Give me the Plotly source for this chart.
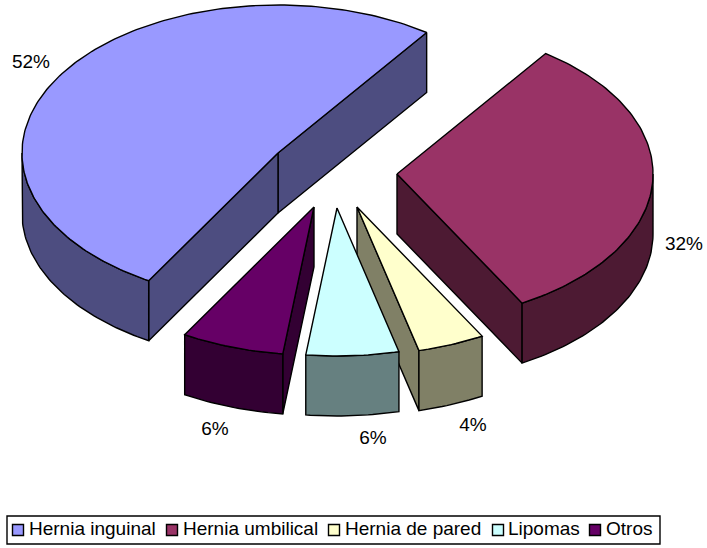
import math
import numpy as np
import plotly.graph_objects as go

# Chart data
categories = ["Hernia inguinal", "Hernia umbilical", "Hernia de pared", "Lipomas", "Otros"]
values = [52, 32, 4, 6, 6]
top_colors = ["#9999FF", "#993366", "#FFFFCC", "#CCFFFF", "#660066"]
side_colors = ["#4D4D80", "#4D1A33", "#808066", "#668080", "#330033"]

# Tip of each exploded wedge on the page, in category order
tips = [(278, 153), (397, 174), (357, 207), (337, 208), (314, 207)]
label_xy = [(31, 63), (684, 245), (473, 426), (373, 439), (215, 430)]
# Painter's order: back slices first, front slices last
draw_order = [0, 1, 2, 4, 3]

# Legend layout
legend_swatch_x = [18, 172, 334, 498, 595]
legend_text_x = [29, 183, 345, 508, 606]
legend_y = 530

# Pie projection
WIDTH, HEIGHT = 707, 548
RX, RY = 256, 148
DEPTH = 60
START_DEG = 35.5
FONT = "Liberation Sans, Arial, sans-serif"
TEXT_SIZE = 19
# Foreshortening of the rim along the near edge, in degrees
WARP_AT = [150, 165, 187, 209, 260]
WARP_BY = [0, 0.9, 0.3, 2.1, 0]


def point(tip, deg, drop=0):
    d = deg % 360
    t = math.radians(d + float(np.interp(d, WARP_AT, WARP_BY)))
    return tip[0] + RX * math.sin(t), tip[1] - RY * math.cos(t) + drop


def arc(tip, a, b, drop=0):
    n = max(2, int(abs(b - a)) + 1)
    return [point(tip, a + (b - a) * i / (n - 1), drop) for i in range(n)]


def polygon(fig, pts, color):
    xs = [p[0] for p in pts] + [pts[0][0]]
    ys = [p[1] for p in pts] + [pts[0][1]]
    fig.add_trace(go.Scatter(
        x=xs, y=ys, mode="lines", fill="toself", fillcolor=color,
        line=dict(color="black", width=1.4), hoverinfo="skip", showlegend=False,
    ))


def radial_face(fig, tip, deg, color):
    rim = point(tip, deg)
    polygon(fig, [tip, rim, (rim[0], rim[1] + DEPTH), (tip[0], tip[1] + DEPTH)], color)


def draw_slice(fig, i, a, b):
    tip = tips[i]
    # Radial faces turned towards the viewer
    if i == 0:
        radial_face(fig, tip, b, side_colors[i])
        radial_face(fig, tip, a, side_colors[i])
    elif i in (1, 2):
        radial_face(fig, tip, b, side_colors[i])
    elif i == 4:
        radial_face(fig, tip, a, side_colors[i])
    # Outer wall: only the part of the rim on the near half of the ellipse
    lo, hi = max(a, 90), min(b, 270)
    if lo < hi:
        polygon(fig, arc(tip, lo, hi) + arc(tip, hi, lo, DEPTH), side_colors[i])
    # Top face
    polygon(fig, [tip] + arc(tip, a, b), top_colors[i])


fig = go.Figure()

# Slice angles run clockwise, with the umbilical wedge first on the right
spans = {}
cursor = START_DEG
for i in [1, 2, 3, 4, 0]:
    sweep = values[i] / sum(values) * 360
    spans[i] = (cursor, cursor + sweep)
    cursor += sweep

for i in draw_order:
    draw_slice(fig, i, *spans[i])

# Percentage labels
fig.add_trace(go.Scatter(
    x=[p[0] for p in label_xy], y=[p[1] for p in label_xy],
    mode="text", text=[f"{v}%" for v in values], textposition="middle center",
    textfont=dict(family=FONT, size=TEXT_SIZE, color="black"),
    hoverinfo="skip", showlegend=False,
))

# Legend row
fig.add_trace(go.Scatter(
    x=legend_swatch_x, y=[legend_y] * len(categories), mode="markers",
    marker=dict(symbol="square", size=11, color=top_colors, line=dict(color="black", width=1.4)),
    hoverinfo="skip", showlegend=False,
))
fig.add_trace(go.Scatter(
    x=legend_text_x, y=[legend_y] * len(categories), mode="text",
    text=categories, textposition="middle right",
    textfont=dict(family=FONT, size=TEXT_SIZE, color="black"),
    hoverinfo="skip", showlegend=False,
))

fig.update_layout(
    width=WIDTH, height=HEIGHT, margin=dict(l=0, r=0, t=0, b=0),
    paper_bgcolor="white", plot_bgcolor="white", showlegend=False,
    xaxis=dict(range=[0, WIDTH], visible=False, fixedrange=True),
    yaxis=dict(range=[HEIGHT, 0], visible=False, fixedrange=True),
    shapes=[dict(type="rect", xref="x", yref="y", x0=7, x1=660, y0=516, y1=544,
                 line=dict(color="black", width=1.4), layer="below")],
)

fig.write_html("out.html", config={"displayModeBar": False})
